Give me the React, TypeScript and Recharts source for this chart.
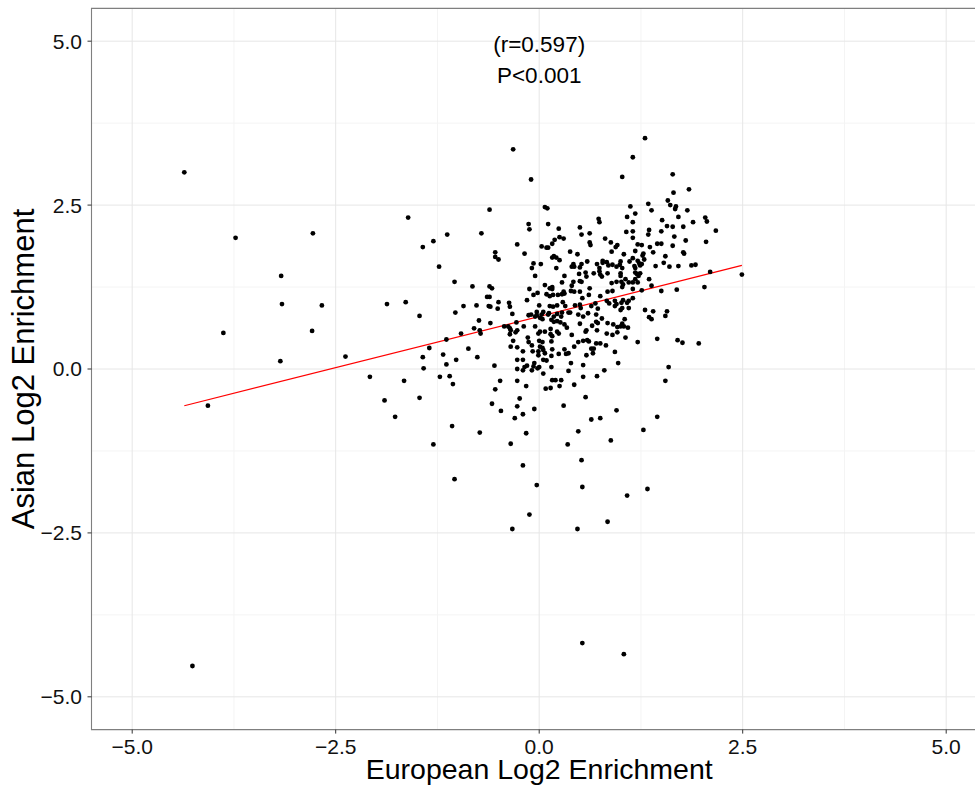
import React from "react";
import {
  ScatterChart,
  Scatter,
  XAxis,
  YAxis,
  CartesianGrid,
  ReferenceLine,
  ReferenceArea,
  ReferenceDot,
} from "recharts";

// axis setup (log2 enrichment, both axes)
const axisDomain: [number, number] = [-5.5, 5.5];
const majorTicks = [-5, -2.5, 0, 2.5, 5];
const minorTicks = [-3.75, -1.25, 1.25, 3.75];

// correlation annotation
const corrLabel = "(r=0.597)";
const pLabel = "P<0.001";
const annotationX = 0;
const annotationY = [4.96, 4.48];

// lm fit, end points
const fitLine = [
  { x: -4.36, y: -0.56 },
  { x: 2.49, y: 1.58 },
];

// outliers, far left and bottom
const outlierPoints: [number, number][] = [
  [-4.36, 3.0], [-3.73, 2.0], [-2.78, 2.07], [-3.17, 1.42], [-3.16, 0.99],
  [-2.67, 0.97], [-1.87, 0.99], [-3.88, 0.55], [-2.79, 0.58], [-3.18, 0.12],
  [-2.38, 0.19], [-2.08, -0.12], [-1.9, -0.48], [-4.07, -0.56], [-4.26, -4.53],
];

// upper left of the main cloud
const upperLeftPoints: [number, number][] = [
  [-0.32, 3.35], [-0.1, 2.89], [-0.61, 2.43], [0.07, 2.47], [0.1, 2.45],
  [-1.61, 2.31], [-0.13, 2.21], [-0.12, 2.13], [0.11, 2.21], [0.24, 2.14],
  [-1.13, 2.05], [-0.71, 2.07], [-1.43, 1.86], [-1.3, 1.95], [-0.27, 1.9],
  [-0.54, 1.78], [-0.54, 1.71], [-0.5, 1.67], [-0.18, 1.76], [0.03, 1.87],
  [0.09, 1.85], [0.11, 1.85], [0.16, 1.91], [0.19, 1.97], [0.25, 2.01],
  [0.16, 1.7], [0.18, 1.72], [0.21, 1.7], [0.25, 1.66], [-1.23, 1.56],
  [-0.09, 1.54], [-0.07, 1.61], [0.02, 1.6], [0.21, 1.54], [-0.05, 1.42],
];

// upper right of the main cloud
const upperRightPoints: [number, number][] = [
  [1.3, 3.52], [1.15, 3.23], [1.02, 2.93], [1.64, 2.97], [1.65, 2.69],
  [1.84, 2.74], [1.58, 2.57], [1.61, 2.5], [1.68, 2.48], [1.67, 2.44],
  [1.34, 2.52], [1.38, 2.42], [1.12, 2.48], [1.18, 2.37], [1.08, 2.32],
  [1.15, 2.24], [1.82, 2.42], [1.71, 2.32], [1.51, 2.27], [1.89, 2.24],
  [2.04, 2.31], [2.06, 2.25], [2.17, 2.11], [1.77, 2.17], [1.57, 2.18],
  [1.64, 2.17], [1.5, 2.1], [1.35, 2.12], [1.34, 2.05], [1.15, 2.1],
  [1.07, 2.09], [1.15, 2.0], [0.73, 2.29], [0.74, 2.24], [0.5, 2.16],
  [0.52, 2.05], [0.62, 2.07], [0.3, 1.99], [0.81, 1.99], [0.88, 1.93],
  [0.62, 1.93], [0.63, 1.89], [0.96, 1.89], [0.94, 1.86], [1.21, 1.9],
  [1.26, 1.89], [1.45, 1.91], [1.5, 1.91], [1.36, 1.86], [1.66, 2.02],
  [1.8, 1.96], [1.64, 1.88], [2.05, 1.94], [1.77, 1.78], [1.78, 1.76],
  [0.38, 1.79], [0.47, 1.75], [0.89, 1.79], [1.04, 1.75], [1.18, 1.8],
  [1.28, 1.76], [1.27, 1.73], [1.4, 1.78], [1.15, 1.69], [1.21, 1.65],
  [1.29, 1.67], [1.55, 1.72], [1.53, 1.62], [1.6, 1.56], [1.71, 1.57],
  [1.87, 1.58], [1.92, 1.59], [1.43, 1.57], [0.59, 1.64], [0.42, 1.6],
  [0.4, 1.56], [0.43, 1.56], [0.52, 1.6], [0.5, 1.55], [0.71, 1.6],
  [0.74, 1.54], [0.78, 1.65], [0.78, 1.62], [0.83, 1.63], [0.85, 1.58],
  [0.9, 1.59], [0.95, 1.56], [1.02, 1.54], [0.99, 1.59], [1.0, 1.64],
  [1.11, 1.64], [1.17, 1.57], [1.18, 1.54], [1.23, 1.61], [1.24, 1.58],
  [1.26, 1.6], [0.31, 1.42], [0.49, 1.45], [0.57, 1.47], [0.58, 1.41],
  [0.67, 1.46], [0.74, 1.49], [0.75, 1.44], [0.77, 1.41], [0.84, 1.46],
  [1.0, 1.46], [1.0, 1.42], [1.18, 1.47], [1.2, 1.45], [1.24, 1.46],
  [1.22, 1.42], [1.06, 1.37], [1.18, 1.37], [1.35, 1.37], [2.1, 1.48],
  [2.49, 1.44],
];

// middle right of the cloud
const midRightPoints: [number, number][] = [
  [0.42, 1.33], [0.5, 1.34], [0.52, 1.33], [0.4, 1.27], [0.62, 1.23],
  [0.31, 1.15], [0.28, 1.14], [0.43, 1.18], [0.61, 1.13], [0.75, 1.11],
  [0.84, 1.18], [0.9, 1.19], [0.89, 1.31], [0.95, 1.33], [1.01, 1.33],
  [1.03, 1.29], [1.02, 1.25], [1.1, 1.32], [1.15, 1.32], [1.21, 1.32],
  [1.15, 1.22], [1.26, 1.2], [1.38, 1.27], [1.5, 1.19], [1.69, 1.21],
  [2.03, 1.25], [0.29, 1.02], [0.32, 0.96], [0.28, 0.86], [0.36, 0.86],
  [0.38, 0.86], [0.44, 0.97], [0.51, 0.93], [0.53, 1.08], [0.64, 0.96],
  [0.6, 0.85], [0.7, 0.83], [0.72, 0.92], [0.54, 0.8], [0.48, 0.83],
  [0.77, 0.77], [0.7, 0.72], [0.72, 0.7], [0.83, 1.04], [0.86, 1.0],
  [0.93, 1.04], [0.95, 0.99], [1.01, 1.01], [1.03, 1.05], [1.08, 1.01],
  [1.1, 1.04], [1.15, 1.08], [1.1, 0.93], [1.0, 0.9], [1.02, 0.93],
  [0.93, 0.96], [1.3, 0.9], [1.4, 0.88], [1.35, 0.79], [1.38, 0.76],
  [1.57, 0.88], [1.55, 0.81], [1.05, 0.76], [1.02, 0.69], [1.04, 0.65],
  [1.0, 0.65], [1.09, 0.63], [0.96, 0.64], [0.84, 0.7], [0.91, 0.68],
  [0.5, 0.69], [0.65, 0.66], [0.58, 0.59], [0.57, 0.57], [0.34, 0.63],
  [0.26, 0.71], [0.27, 0.8], [0.83, 0.54], [0.9, 0.52], [0.96, 0.56],
  [1.06, 0.48], [1.21, 0.41], [1.45, 0.46], [1.7, 0.44], [1.76, 0.4],
  [1.96, 0.39], [0.48, 0.41], [0.54, 0.43], [0.59, 0.44], [0.61, 0.42],
  [0.7, 0.39], [0.75, 0.39], [0.82, 0.36], [0.43, 0.34], [0.31, 0.3],
  [0.33, 0.23], [0.64, 0.31], [0.67, 0.31], [0.66, 0.24], [0.58, 0.21],
  [0.93, 0.26], [0.97, 0.09], [0.39, 0.09], [0.36, -0.03], [0.8, -0.02],
  [0.54, -0.12], [0.71, -0.11], [0.27, -0.17], [0.43, -0.24], [1.59, 0.03],
  [1.55, -0.18], [0.57, -0.43], [0.3, -0.56], [0.95, -0.63], [0.75, -0.75],
  [0.64, -0.77], [1.45, -0.73],
];

// middle left of the cloud
const midLeftPoints: [number, number][] = [
  [-1.04, 1.33], [-0.82, 1.26], [-0.61, 1.26], [-0.58, 1.23], [-0.64, 1.1],
  [-0.61, 1.1], [-1.64, 1.02], [-1.47, 0.81], [-0.93, 0.96], [-0.77, 0.97],
  [-1.03, 0.86], [-0.62, 0.96], [-0.6, 0.95], [-0.5, 1.02], [-0.51, 0.92],
  [-0.37, 1.01], [-0.36, 0.95], [-0.33, 0.84], [-0.15, 1.05], [-0.12, 1.22],
  [-0.07, 1.13], [-0.02, 1.16], [0.07, 1.28], [0.13, 1.23], [0.16, 1.25],
  [0.16, 1.22], [0.09, 1.14], [0.13, 1.11], [0.17, 1.13], [0.23, 1.13],
  [0.0, 0.97], [0.13, 0.96], [0.17, 0.95], [0.22, 0.97], [0.12, 0.85],
  [0.11, 0.83], [0.03, 0.83], [-0.03, 0.82], [-0.05, 0.8], [-0.1, 0.83],
  [0.01, 0.78], [0.04, 0.76], [0.15, 0.75], [0.18, 0.72], [0.22, 0.84],
  [-0.28, 0.71], [-0.19, 0.65], [-0.43, 0.65], [-0.38, 0.65], [-0.36, 0.62],
  [-0.35, 0.59], [-0.27, 0.59], [-0.29, 0.56], [-0.36, 0.53], [-0.6, 0.7],
  [-0.74, 0.74], [-0.8, 0.62], [-0.73, 0.59], [-0.72, 0.54], [-0.96, 0.54],
  [-1.14, 0.45], [-1.35, 0.32], [-0.87, 0.31], [-1.43, 0.18], [-1.42, 0.01],
  [-1.18, 0.22], [-1.14, 0.07], [-1.02, 0.14], [-0.76, 0.18], [-0.55, 0.05],
  [-0.32, 0.43], [-0.35, 0.34], [-0.27, 0.33], [-0.2, 0.27], [-0.27, 0.14],
  [-0.2, 0.14], [-0.18, 0.03], [-0.15, 0.05], [-0.2, -0.02], [-0.14, 0.48],
  [-0.13, 0.41], [-0.09, 0.36], [-0.08, 0.27], [-0.05, 0.65], [-0.01, 0.54],
  [0.0, 0.43], [0.04, 0.41], [0.01, 0.34], [0.04, 0.32], [0.05, 0.29],
  [-0.01, 0.27], [0.07, 0.24], [0.09, 0.13], [0.14, 0.61], [0.14, 0.53],
  [0.15, 0.42], [0.16, 0.3], [0.15, 0.2], [0.22, 0.57], [0.24, 0.54],
  [0.22, 0.73], [-0.06, 0.09], [-0.02, 0.01], [0.0, 0.03], [0.05, -0.07],
  [0.15, 0.03], [0.16, -0.17], [0.2, -0.17], [0.08, -0.3], [0.14, -0.29],
  [0.25, -0.26], [-0.27, 0.0], [-0.27, -0.18], [-0.48, -0.18], [-0.54, -0.31],
  [-0.16, -0.26], [-0.24, -0.45], [-0.27, -0.57], [-0.58, -0.53], [-0.47, -0.64],
  [-0.2, -0.69], [-0.06, -0.61], [-0.3, -0.75], [-1.22, -0.12], [-1.1, -0.11],
  [-1.06, -0.23], [-1.66, -0.18], [-1.47, -0.44], [-1.77, -0.73],
];

// extra points in the dense core around (0, 0.7)
const corePoints: [number, number][] = [
  [-0.13, 0.82], [-0.03, 0.87], [0.05, 0.87], [0.18, 0.8], [0.5, 0.98],
  [0.69, 1.0], [0.3, 1.18], [0.39, 1.19], [0.5, 1.18], [0.28, 1.32],
  [0.31, 0.68], [0.01, 0.57], [0.07, 0.57], [0.16, 0.5], [0.4, 0.52],
  [0.71, 0.59], [-0.01, 0.21], [0.24, 0.23], [0.36, 0.24], [-0.07, 0.04],
  [0.05, 0.14], [0.54, 0.06], [-0.09, -0.02],
];

// lower tail
const lowerPoints: [number, number][] = [
  [-1.07, -0.87], [-0.73, -0.97], [-1.3, -1.15], [-0.35, -1.14], [-0.16, -0.98],
  [0.48, -0.95], [0.35, -1.15], [0.88, -1.09], [1.28, -0.93], [-0.2, -1.47],
  [0.52, -1.39], [-1.04, -1.68], [-0.03, -1.77], [0.53, -1.8], [1.08, -1.93],
  [1.33, -1.83], [-0.12, -2.22], [0.84, -2.33], [-0.33, -2.44], [0.47, -2.44],
  [0.53, -4.18], [1.04, -4.35],
];

const genes = [
  ...outlierPoints,
  ...upperLeftPoints,
  ...upperRightPoints,
  ...midRightPoints,
  ...midLeftPoints,
  ...corePoints,
  ...lowerPoints,
].map(([x, y]) => ({ x, y }));

const fmt = (v: number) => v.toFixed(1).replace("-", "\u2212");

const Dot = (props: any) => {
  const { cx, cy } = props;
  if (cx == null || cy == null) return <g />;
  return <circle cx={cx} cy={cy} r={2.4} fill="#000000" />;
};

export default function App() {
  return (
    <div
      style={{
        position: "absolute",
        left: 0,
        top: 0,
        width: 975,
        height: 792,
        overflow: "hidden",
        background: "#ffffff",
        fontFamily: "'Liberation Sans', Arial, Helvetica, sans-serif",
      }}
    >
      <ScatterChart
        width={1000}
        height={792}
        margin={{ top: 8.4, right: 13.1, bottom: 12.4, left: 11.5 }}
      >
        <CartesianGrid
          stroke="#f4f4f4"
          strokeWidth={1}
          horizontalValues={minorTicks}
          verticalValues={minorTicks}
        />
        <CartesianGrid
          stroke="#e6e6e6"
          strokeWidth={1}
          horizontalValues={majorTicks}
          verticalValues={majorTicks}
        />
        <XAxis
          type="number"
          dataKey="x"
          domain={axisDomain}
          ticks={majorTicks}
          allowDataOverflow
          tickFormatter={fmt}
          axisLine={false}
          tickLine={{ stroke: "#333333" }}
          tickSize={4}
          tickMargin={5}
          height={50}
          tick={{ fill: "#111111", fontSize: 21 }}
          label={{
            value: "European Log2 Enrichment",
            position: "insideBottom",
            offset: 0.5,
            fill: "#000000",
            fontSize: 28.5,
          }}
        />
        <YAxis
          type="number"
          dataKey="y"
          domain={axisDomain}
          ticks={majorTicks}
          allowDataOverflow
          tickFormatter={fmt}
          axisLine={false}
          tickLine={{ stroke: "#333333" }}
          tickSize={4}
          tickMargin={5.5}
          width={80}
          tick={{ fill: "#111111", fontSize: 21 }}
          label={{
            value: "Asian Log2 Enrichment",
            angle: -90,
            position: "insideLeft",
            offset: 11.8,
            fill: "#000000",
            fontSize: 31,
            style: { textAnchor: "middle" },
          }}
        />
        <ReferenceArea
          x1={axisDomain[0]}
          x2={axisDomain[1]}
          y1={axisDomain[0]}
          y2={axisDomain[1]}
          fill="none"
          fillOpacity={0}
          stroke="#7f7f7f"
          strokeWidth={1.1}
        />
        <Scatter
          data={genes}
          fill="#000000"
          shape={Dot}
          isAnimationActive={false}
        />
        <ReferenceLine
          segment={fitLine}
          stroke="#ff0000"
          strokeWidth={1.2}
        />
        <ReferenceDot
          x={annotationX}
          y={annotationY[0]}
          r={0}
          fill="none"
          stroke="none"
          label={{ value: corrLabel, position: "center", fill: "#000000", fontSize: 22.5 }}
        />
        <ReferenceDot
          x={annotationX}
          y={annotationY[1]}
          r={0}
          fill="none"
          stroke="none"
          label={{ value: pLabel, position: "center", fill: "#000000", fontSize: 22.5 }}
        />
      </ScatterChart>
    </div>
  );
}
